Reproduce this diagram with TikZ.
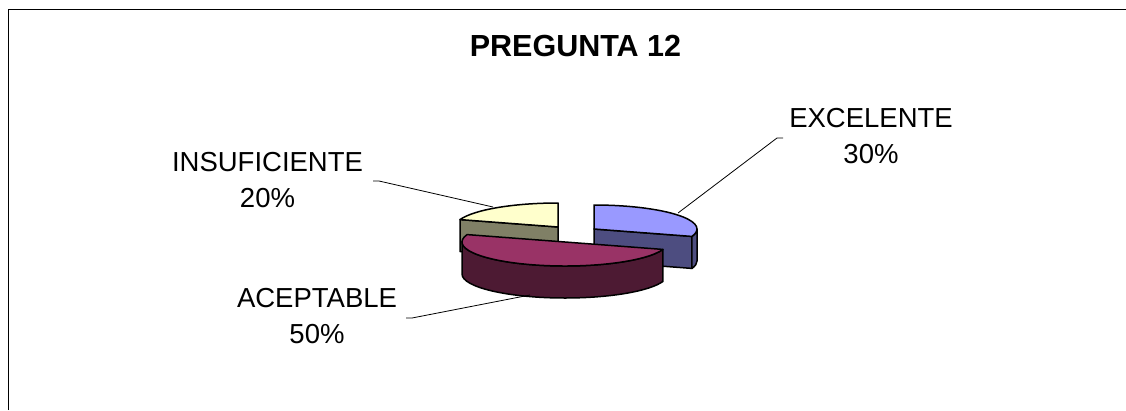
\documentclass[tikz,border=0pt]{standalone}
\usepackage{fontspec}
\setmainfont{Liberation Sans}
\usetikzlibrary{calc}
\definecolor{btop}{HTML}{9999FF}
\definecolor{bside}{HTML}{4D4D80}
\definecolor{mtop}{HTML}{993366}
\definecolor{mside}{HTML}{4D1A33}
\definecolor{ytop}{HTML}{FFFFCC}
\definecolor{yside}{HTML}{808066}
\begin{document}
\begin{tikzpicture}[x=1pt,y=-1pt,
  lbl/.style={font=\fontsize{27.5}{35.5}\selectfont, align=center, inner sep=0pt},
  ttl/.style={font=\bfseries\fontsize{30.5}{36}\selectfont, inner sep=0pt},
  leader/.style={draw=black, line width=0.8pt},
  face/.style={draw=black, line width=1.5pt, line join=round},
  er/.style={x radius=103, y radius=24}]
\useasboundingbox (0,0) rectangle (1126,410);
\fill[white] (0,0) rectangle (1126,410);
% frame
\draw[line width=1pt] (8.5,410) -- (8.5,9.5) -- (1126,9.5);

% title
\node[ttl, anchor=base] (title) at (575.5,56) {PREGUNTA 12};

% pie centres
\coordinate (Y) at (558,227);
\coordinate (B) at (594,229);
\coordinate (M) at (565,242);

% INSUFICIENTE slice (yellow)
\filldraw[fill=yside, face] (Y) -- ($(Y)+(198:103 and 24)$) -- ($(Y)+(198:103 and 24)+(0,32)$) -- ($(Y)+(0,32)$) -- cycle;
\filldraw[fill=ytop, face] (Y) -- ($(Y)+(198:103 and 24)$) arc[start angle=198, end angle=270, er] -- cycle;

% EXCELENTE slice (blue)
\filldraw[fill=bside, face] (B) -- ($(B)+(18:103 and 24)$) -- ($(B)+(18:103 and 24)+(0,32)$) -- ($(B)+(0,32)$) -- cycle;
\filldraw[fill=bside, face] ($(B)+(0:103 and 24)$) arc[start angle=0, end angle=18, er] -- ++(0,32) arc[start angle=18, end angle=0, er] -- cycle;
\filldraw[fill=btop, face] (B) -- ($(B)+(-90:103 and 24)$) arc[start angle=-90, end angle=18, er] -- cycle;

% ACEPTABLE slice (maroon)
\filldraw[fill=mside, face] ($(M)+(18:103 and 24)$) arc[start angle=18, end angle=180, er] -- ++(0,32) arc[start angle=180, end angle=18, er] -- cycle;
\filldraw[fill=mtop, face] (M) -- ($(M)+(18:103 and 24)$) arc[start angle=18, end angle=198, er] -- cycle;

% labels (base anchor = baseline of the last line)
\node[lbl, anchor=base] (excelente) at (871,163) {EXCELENTE\\30\%};
\node[lbl, anchor=base] (insuf) at (267.5,207) {INSUFICIENTE\\20\%};
\node[lbl, anchor=base] (acept) at (317,343) {ACEPTABLE\\50\%};

% leader lines
\coordinate (e1) at (783,138);
\coordinate (e2) at (777,138);
\coordinate (e3) at (678,213);
\draw[leader] (e1) -- (e2) -- (e3);
\coordinate (i1) at (373,181);
\coordinate (i2) at (379,181);
\coordinate (i3) at (493,207);
\draw[leader] (i1) -- (i2) -- (i3);
\coordinate (a1) at (406,318);
\coordinate (a2) at (412,318);
\coordinate (a3) at (530,295);
\draw[leader] (a1) -- (a2) -- (a3);
\end{tikzpicture}
\end{document}
